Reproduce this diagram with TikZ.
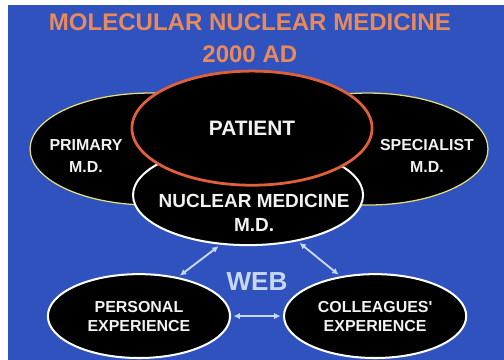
\documentclass[tikz,border=0pt]{standalone}
\usepackage{fontspec}
\setmainfont{Liberation Sans}
\newfontfamily\plainsans{Liberation Sans}
\usetikzlibrary{shapes.geometric, arrows.meta, positioning}
\definecolor{slideblue}{HTML}{2F52BE}
\definecolor{titleorange}{HTML}{E98A5C}
\definecolor{patientred}{HTML}{E0603A}
\definecolor{sideyellow}{HTML}{E8DC78}
\definecolor{webblue}{HTML}{C8D8F2}

\begin{document}
\begin{tikzpicture}[
  oval/.style={ellipse, fill=black, inner sep=0pt, line width=1.6pt, draw=white},
  caption/.style={align=center, text=white!95!black},
  arrow/.style={{Latex[length=5pt,width=5pt]}-{Latex[length=5pt,width=5pt]}, line width=1.5pt, draw=webblue, shorten <=2pt, shorten >=2pt}
]
  \useasboundingbox (0,0) rectangle (14,10);
  \fill[white] (0,0) rectangle (14,10);
  \fill[slideblue] (0.22,0) rectangle (14,9.86);

  % Title
  \node[align=center, text=titleorange, font=\fontsize{19}{25}\selectfont\bfseries] (title) at (6.94,8.94) {MOLECULAR NUCLEAR MEDICINE\\2000 AD};

  % Side ovals
  \node[oval, draw=sideyellow, line width=1pt, minimum width=6.67cm, minimum height=3.11cm] (primary) at (4.17,5.86) {};
  \node[oval, draw=sideyellow, line width=1pt, minimum width=6.67cm, minimum height=3.11cm] (specialist) at (10.22,5.86) {};
  \node[caption, font=\fontsize{12.6}{17}\selectfont\bfseries] (primarytext) at (2.39,5.67) {PRIMARY\\M.D.};
  \node[caption, font=\fontsize{12.6}{17}\selectfont\bfseries] (specialisttext) at (11.86,5.67) {SPECIALIST\\M.D.};

  % Central ovals
  \node[oval, minimum width=6.39cm, minimum height=2.78cm] (nuclear) at (6.89,4.58) {};
  \node[caption, font=\fontsize{15}{19}\selectfont\bfseries] (nucleartext) at (7.06,4.08) {NUCLEAR MEDICINE\\M.D.};
  \node[oval, draw=patientred, line width=2.2pt, minimum width=6.67cm, minimum height=3.17cm, caption, font=\fontsize{16.5}{20}\selectfont\bfseries] (patient) at (7.0,6.44) {PATIENT};

  % Experience ovals
  \node[oval, minimum width=5.06cm, minimum height=2.33cm, caption, font=\fontsize{12.6}{15}\selectfont\bfseries] (personal) at (3.86,1.22) {PERSONAL\\EXPERIENCE};
  \node[oval, minimum width=5.06cm, minimum height=2.33cm, caption, font=\plainsans\fontsize{12.6}{15}\selectfont\bfseries] (colleagues) at (10.42,1.22) {COLLEAGUES'\\EXPERIENCE};
  \node[text=webblue, font=\fontsize{20.6}{24}\selectfont\bfseries] (web) at (7.14,2.17) {WEB};

  % Arrows
  \draw[arrow] (personal.45) -- (nuclear.241);
  \draw[arrow] (nuclear.-43) -- (colleagues.131);
  \draw[arrow] (personal.east) -- (colleagues.west);
\end{tikzpicture}
\end{document}
